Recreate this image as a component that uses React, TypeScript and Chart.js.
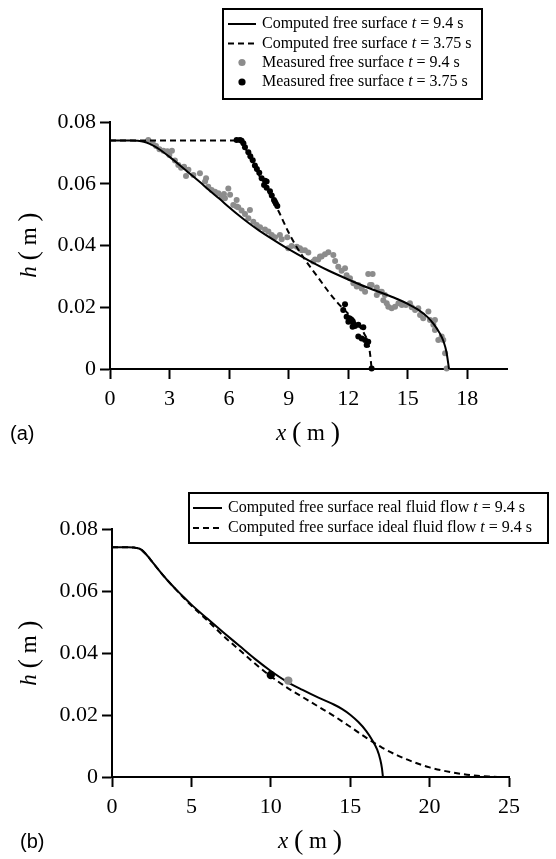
import React, { useEffect, useRef } from 'react';
import { Chart, registerables } from 'chart.js';
Chart.register(...registerables);

const SERIF = '"Liberation Serif", "Times New Roman", serif';
const SANS = '"Liberation Sans", Arial, sans-serif';

// ---------- Panel (a) ----------
const A_X_TICKS = [0, 3, 6, 9, 12, 15, 18];
const A_Y_TICKS = [0, 0.02, 0.04, 0.06, 0.08];

const A_COMP94_X = [0, 1.0, 1.4, 1.7, 2.0, 2.25, 2.5, 3.0, 3.5, 4.0, 4.5, 5.0, 5.5, 6.0, 6.5, 7.0, 7.5, 8.0, 9.0, 10.0, 11.0, 12.0, 13.0, 14.0, 14.5, 15.0, 15.5, 16.0, 16.3, 16.6, 16.8, 16.95, 17.08];
const A_COMP94_H = [0.074, 0.074, 0.0739, 0.0736, 0.0729, 0.0721, 0.0711, 0.0687, 0.0661, 0.0634, 0.0607, 0.0579, 0.0552, 0.0524, 0.0497, 0.0472, 0.0449, 0.0428, 0.0388, 0.0352, 0.0319, 0.029, 0.0263, 0.0239, 0.0226, 0.0211, 0.0193, 0.0168, 0.0146, 0.0117, 0.009, 0.0055, 0.0];

const A_COMP375_X = [0, 6.6, 6.75, 7.0, 7.5, 8.0, 8.5, 9.0, 9.5, 10.0, 10.5, 11.0, 11.5, 12.0, 12.5, 12.8, 13.0, 13.1, 13.18];
const A_COMP375_H = [0.074, 0.074, 0.0725, 0.069, 0.0628, 0.0571, 0.051, 0.0442, 0.0385, 0.0338, 0.0295, 0.0251, 0.0212, 0.0179, 0.0144, 0.0115, 0.0085, 0.005, 0.0];

const A_MEAS94_X = [1.93, 2.15, 2.32, 2.49, 2.69, 2.89, 3.12, 2.99, 3.27, 3.44, 3.58, 3.73, 3.95, 3.83, 4.2, 4.53, 4.84, 4.79, 4.95, 5.12, 5.29, 5.46, 5.63, 5.79, 5.74, 5.96, 6.05, 6.21, 6.38, 6.38, 6.46, 6.63, 6.8, 6.97, 7.05, 7.22, 7.39, 7.56, 7.81, 7.98, 8.15, 8.31, 8.56, 8.65, 8.93, 8.98, 9.15, 9.41, 9.57, 9.66, 9.82, 9.99, 10.24, 10.33, 10.49, 10.58, 10.66, 10.83, 11.0, 11.25, 11.34, 11.5, 11.67, 11.84, 11.92, 12.09, 12.26, 12.43, 12.51, 12.68, 12.85, 13.01, 13.23, 13.1, 13.18, 13.44, 13.44, 13.6, 13.69, 13.77, 13.85, 13.94, 14.02, 14.19, 14.36, 14.53, 14.7, 14.91, 15.11, 15.2, 15.37, 15.53, 15.62, 15.78, 16.04, 16.12, 16.29, 16.37, 16.37, 16.54, 16.71, 16.79, 16.88, 16.96];
const A_MEAS94_H = [0.0742, 0.0731, 0.0722, 0.0712, 0.0707, 0.0705, 0.0707, 0.0693, 0.0675, 0.0661, 0.0652, 0.0655, 0.0645, 0.0625, 0.0628, 0.0634, 0.0618, 0.0607, 0.059, 0.058, 0.0574, 0.0569, 0.0558, 0.0553, 0.0567, 0.0585, 0.0564, 0.0531, 0.0526, 0.0547, 0.0524, 0.0513, 0.0502, 0.0488, 0.0515, 0.0477, 0.0466, 0.0459, 0.0452, 0.0445, 0.0434, 0.0427, 0.0434, 0.042, 0.0427, 0.0391, 0.0398, 0.0396, 0.0391, 0.0385, 0.0385, 0.0377, 0.0348, 0.0355, 0.0355, 0.0364, 0.0364, 0.0372, 0.0378, 0.0369, 0.035, 0.0331, 0.0318, 0.0326, 0.0304, 0.0294, 0.0278, 0.0267, 0.0272, 0.0261, 0.025, 0.0308, 0.0308, 0.0272, 0.0272, 0.0264, 0.024, 0.025, 0.025, 0.0223, 0.024, 0.0213, 0.0202, 0.0197, 0.0202, 0.0213, 0.0207, 0.0207, 0.0213, 0.02, 0.0191, 0.0197, 0.0175, 0.0164, 0.0186, 0.0159, 0.0143, 0.0159, 0.0126, 0.0094, 0.0105, 0.0094, 0.0051, 0.0002];

const A_MEAS375_X = [6.38, 6.55, 6.63, 6.72, 6.8, 6.97, 7.07, 7.19, 7.3, 7.4, 7.52, 7.64, 7.81, 7.89, 7.76, 7.89, 8.06, 8.15, 8.26, 8.31, 8.36, 8.43, 11.84, 11.75, 11.92, 12.01, 12.06, 12.17, 12.22, 12.26, 12.34, 12.51, 12.76, 12.51, 12.68, 12.85, 12.93, 13.01, 13.18];
const A_MEAS375_H = [0.0742, 0.0742, 0.0739, 0.0731, 0.0718, 0.0702, 0.0689, 0.0676, 0.0659, 0.0648, 0.0636, 0.0618, 0.061, 0.0607, 0.0596, 0.0587, 0.0576, 0.0562, 0.0547, 0.0542, 0.0535, 0.0528, 0.021, 0.0191, 0.0169, 0.0153, 0.0164, 0.0159, 0.0137, 0.0148, 0.0139, 0.0143, 0.0135, 0.0105, 0.0099, 0.0094, 0.0078, 0.0088, 0.0002];

const A_LEGEND = [
  ['Computed free surface ', ' = 9.4 s'],
  ['Computed free surface ', ' = 3.75 s'],
  ['Measured free surface ', ' = 9.4 s'],
  ['Measured free surface ', ' = 3.75 s'],
];

// ---------- Panel (b) ----------
const B_X_TICKS = [0, 5, 10, 15, 20, 25];
const B_Y_TICKS = [0, 0.02, 0.04, 0.06, 0.08];

const B_REAL_X = [0, 1.0, 1.4, 1.7, 1.9, 2.1, 2.3, 2.5, 3.0, 3.5, 4.0, 4.5, 5.0, 6.0, 7.0, 8.0, 9.0, 10.0, 11.0, 12.0, 13.0, 14.0, 14.5, 15.0, 15.5, 16.0, 16.4, 16.7, 16.9, 17.0, 17.06];
const B_REAL_H = [0.0741, 0.0741, 0.074, 0.0737, 0.0731, 0.0721, 0.0709, 0.0696, 0.0664, 0.0634, 0.0607, 0.0581, 0.0556, 0.0511, 0.0467, 0.0424, 0.0381, 0.0342, 0.0308, 0.0281, 0.0256, 0.0233, 0.0219, 0.0201, 0.0178, 0.0149, 0.0118, 0.0088, 0.0055, 0.0028, 0.0];

const B_IDEAL_X = [0, 1.0, 1.4, 1.7, 1.9, 2.1, 2.3, 2.5, 3.0, 3.5, 4.0, 4.5, 5.0, 6.0, 7.0, 8.0, 9.0, 10.0, 11.0, 12.0, 13.0, 14.0, 15.0, 16.0, 17.0, 18.0, 19.0, 20.0, 21.0, 22.0, 23.0, 24.0, 24.4];
const B_IDEAL_H = [0.0741, 0.0741, 0.074, 0.0737, 0.0731, 0.0721, 0.0709, 0.0696, 0.0664, 0.0634, 0.0606, 0.0579, 0.0553, 0.0505, 0.0456, 0.0411, 0.0366, 0.0325, 0.0289, 0.0258, 0.0227, 0.0196, 0.0162, 0.0127, 0.0095, 0.0069, 0.0048, 0.0031, 0.0019, 0.001, 0.0004, 0.0001, 0.0];

const B_POINT_BLACK_X = [10.0];
const B_POINT_BLACK_H = [0.0329];
const B_POINT_GRAY_X = [11.1];
const B_POINT_GRAY_H = [0.0311];

const B_LEGEND = [
  ['Computed free surface real fluid flow ', ' = 9.4 s'],
  ['Computed free surface ideal fluid flow ', ' = 9.4 s'],
];

const GRAY = '#8c8c8c';

const pts = (xs: number[], ys: number[]) => xs.map((x, i) => ({ x, y: ys[i] }));

type Part = [string, boolean, number?];
function drawRich(ctx: CanvasRenderingContext2D, parts: Part[], x: number, y: number, size: number, align: 'left' | 'center') {
  const fonts = parts.map(([, it, sz]) => `${it ? 'italic ' : ''}${sz || size}px ${SERIF}`);
  const widths = parts.map(([t], i) => { ctx.font = fonts[i]; return ctx.measureText(t).width; });
  const total = widths.reduce((a, b) => a + b, 0);
  let cx = align === 'center' ? x - total / 2 : x;
  ctx.textBaseline = 'middle';
  ctx.textAlign = 'left';
  ctx.fillStyle = '#000';
  parts.forEach(([t], i) => { ctx.font = fonts[i]; ctx.fillText(t, cx, y); cx += widths[i]; });
}

function unitParts(v: string): Part[] {
  return [[v, true], [' ', false], ['(', false, 28], [' m ', false], [')', false, 28]];
}

function sample(ctx: CanvasRenderingContext2D, kind: string, x0: number, x1: number, y: number) {
  ctx.save();
  if (kind === 'solid' || kind === 'dash') {
    ctx.strokeStyle = '#000';
    ctx.lineWidth = 2;
    ctx.setLineDash(kind === 'dash' ? [6, 4] : []);
    ctx.beginPath(); ctx.moveTo(x0, y); ctx.lineTo(x1, y); ctx.stroke();
  } else {
    ctx.fillStyle = kind === 'gray' ? GRAY : '#000';
    ctx.beginPath(); ctx.arc((x0 + x1) / 2, y, 3.6, 0, Math.PI * 2); ctx.fill();
  }
  ctx.restore();
}

interface Decor {
  legend: { box: [number, number, number, number]; rows: number[]; kinds: string[]; labels: string[][]; sx0: number; sx1: number; tx: number };
  xTitle: [number, number];
  yTitle: [number, number];
  tag: string;
  tagPos: [number, number];
}

function decorPlugin(d: Decor) {
  return {
    id: 'decor',
    afterDraw(chart: any) {
      const ctx: CanvasRenderingContext2D = chart.ctx;
      ctx.save();
      const [bx, by, bw, bh] = d.legend.box;
      ctx.fillStyle = '#fff';
      ctx.fillRect(bx, by, bw, bh);
      ctx.strokeStyle = '#000';
      ctx.lineWidth = 2;
      ctx.strokeRect(bx, by, bw, bh);
      d.legend.rows.forEach((ry, i) => {
        sample(ctx, d.legend.kinds[i], d.legend.sx0, d.legend.sx1, ry);
        drawRich(ctx, [[d.legend.labels[i][0], false], ['t', true], [d.legend.labels[i][1], false]], d.legend.tx, ry, 16, 'left');
      });
      drawRich(ctx, unitParts('x'), d.xTitle[0], d.xTitle[1], 23, 'center');
      ctx.save();
      ctx.translate(d.yTitle[0], d.yTitle[1]);
      ctx.rotate(-Math.PI / 2);
      drawRich(ctx, unitParts('h'), 0, 0, 23, 'center');
      ctx.restore();
      ctx.font = `20px ${SANS}`;
      ctx.textAlign = 'left';
      ctx.textBaseline = 'middle';
      ctx.fillStyle = '#000';
      ctx.fillText(d.tag, d.tagPos[0], d.tagPos[1]);
      ctx.restore();
    },
  };
}

function makeScales(xMax: number, xTicks: number[], yTicks: number[], yWidth: number) {
  const grid = { display: true, drawOnChartArea: false, drawTicks: true, tickLength: 10, tickWidth: 2, tickColor: '#000' };
  const border = { display: true, color: '#000', width: 2 };
  const font = { family: SERIF, size: 22 };
  return {
    x: {
      type: 'linear', position: 'bottom', min: 0, max: xMax,
      afterBuildTicks: (s: any) => { s.ticks = xTicks.map((v) => ({ value: v })); },
      afterFit: (s: any) => { s.height = 70; },
      grid, border,
      ticks: { color: '#000', font, padding: 7, maxRotation: 0, autoSkip: false, callback: (v: any) => String(v) },
    },
    y: {
      type: 'linear', position: 'left', min: 0, max: 0.08,
      afterBuildTicks: (s: any) => { s.ticks = yTicks.map((v) => ({ value: v })); },
      afterFit: (s: any) => { s.width = yWidth; },
      grid, border,
      ticks: { color: '#000', font, padding: 4, autoSkip: false, callback: (v: any) => (Number(v) === 0 ? '0' : Number(v).toFixed(2)) },
    },
  };
}

function lineDs(data: any[], dash: number[], order: number) {
  return { data, showLine: true, borderColor: '#000', borderWidth: 2, borderDash: dash, pointRadius: 0, cubicInterpolationMode: 'monotone', fill: false, clip: false, order };
}
function dotDs(data: any[], color: string, r: number, order: number) {
  return { data, showLine: false, backgroundColor: color, borderWidth: 0, pointRadius: r, pointHoverRadius: r, clip: false, order };
}

export default function App() {
  const refA = useRef<HTMLCanvasElement>(null);
  const refB = useRef<HTMLCanvasElement>(null);

  useEffect(() => {
    const chartA = new Chart(refA.current!, {
      type: 'scatter',
      data: {
        datasets: [
          lineDs(pts(A_COMP94_X, A_COMP94_H), [], 1),
          lineDs(pts(A_COMP375_X, A_COMP375_H), [6, 4], 2),
          dotDs(pts(A_MEAS94_X, A_MEAS94_H), GRAY, 3, 3),
          dotDs(pts(A_MEAS375_X, A_MEAS375_H), '#000', 3, 4),
        ] as any,
      },
      options: {
        responsive: false,
        animation: false,
        events: [],
        layout: { padding: { left: 0, top: 122, right: 49, bottom: 11 } },
        plugins: { legend: { display: false }, tooltip: { enabled: false } },
        scales: makeScales(20, A_X_TICKS, A_Y_TICKS, 110) as any,
      },
      plugins: [decorPlugin({
        legend: { box: [223, 9, 259, 90], rows: [24, 43.5, 62.5, 82], kinds: ['solid', 'dash', 'gray', 'black'], labels: A_LEGEND, sx0: 228, sx1: 256, tx: 262 },
        xTitle: [308, 434],
        yTitle: [30, 245],
        tag: '(a)',
        tagPos: [10, 434],
      })],
    });

    const chartB = new Chart(refB.current!, {
      type: 'scatter',
      data: {
        datasets: [
          dotDs(pts(B_POINT_BLACK_X, B_POINT_BLACK_H), '#000', 4.2, 1),
          dotDs(pts(B_POINT_GRAY_X, B_POINT_GRAY_H), GRAY, 4.2, 2),
          lineDs(pts(B_REAL_X, B_REAL_H), [], 3),
          lineDs(pts(B_IDEAL_X, B_IDEAL_H), [6, 4], 4),
        ] as any,
      },
      options: {
        responsive: false,
        animation: false,
        events: [],
        layout: { padding: { left: 0, top: 79, right: 47, bottom: 12 } },
        plugins: { legend: { display: false }, tooltip: { enabled: false } },
        scales: makeScales(25, B_X_TICKS, B_Y_TICKS, 112) as any,
      },
      plugins: [decorPlugin({
        legend: { box: [189, 43, 359, 50], rows: [58, 78], kinds: ['solid', 'dash'], labels: B_LEGEND, sx0: 193, sx1: 222, tx: 228 },
        xTitle: [310, 392],
        yTitle: [30, 203],
        tag: '(b)',
        tagPos: [20, 392],
      })],
    });

    return () => { chartA.destroy(); chartB.destroy(); };
  }, []);

  return (
    <div style={{ position: 'absolute', left: 0, top: 0, width: 556, height: 859, background: '#fff' }}>
      <canvas ref={refA} width={556} height={450} style={{ position: 'absolute', left: 0, top: 0, width: 556, height: 450 }} />
      <canvas ref={refB} width={556} height={409} style={{ position: 'absolute', left: 0, top: 450, width: 556, height: 409 }} />
    </div>
  );
}
